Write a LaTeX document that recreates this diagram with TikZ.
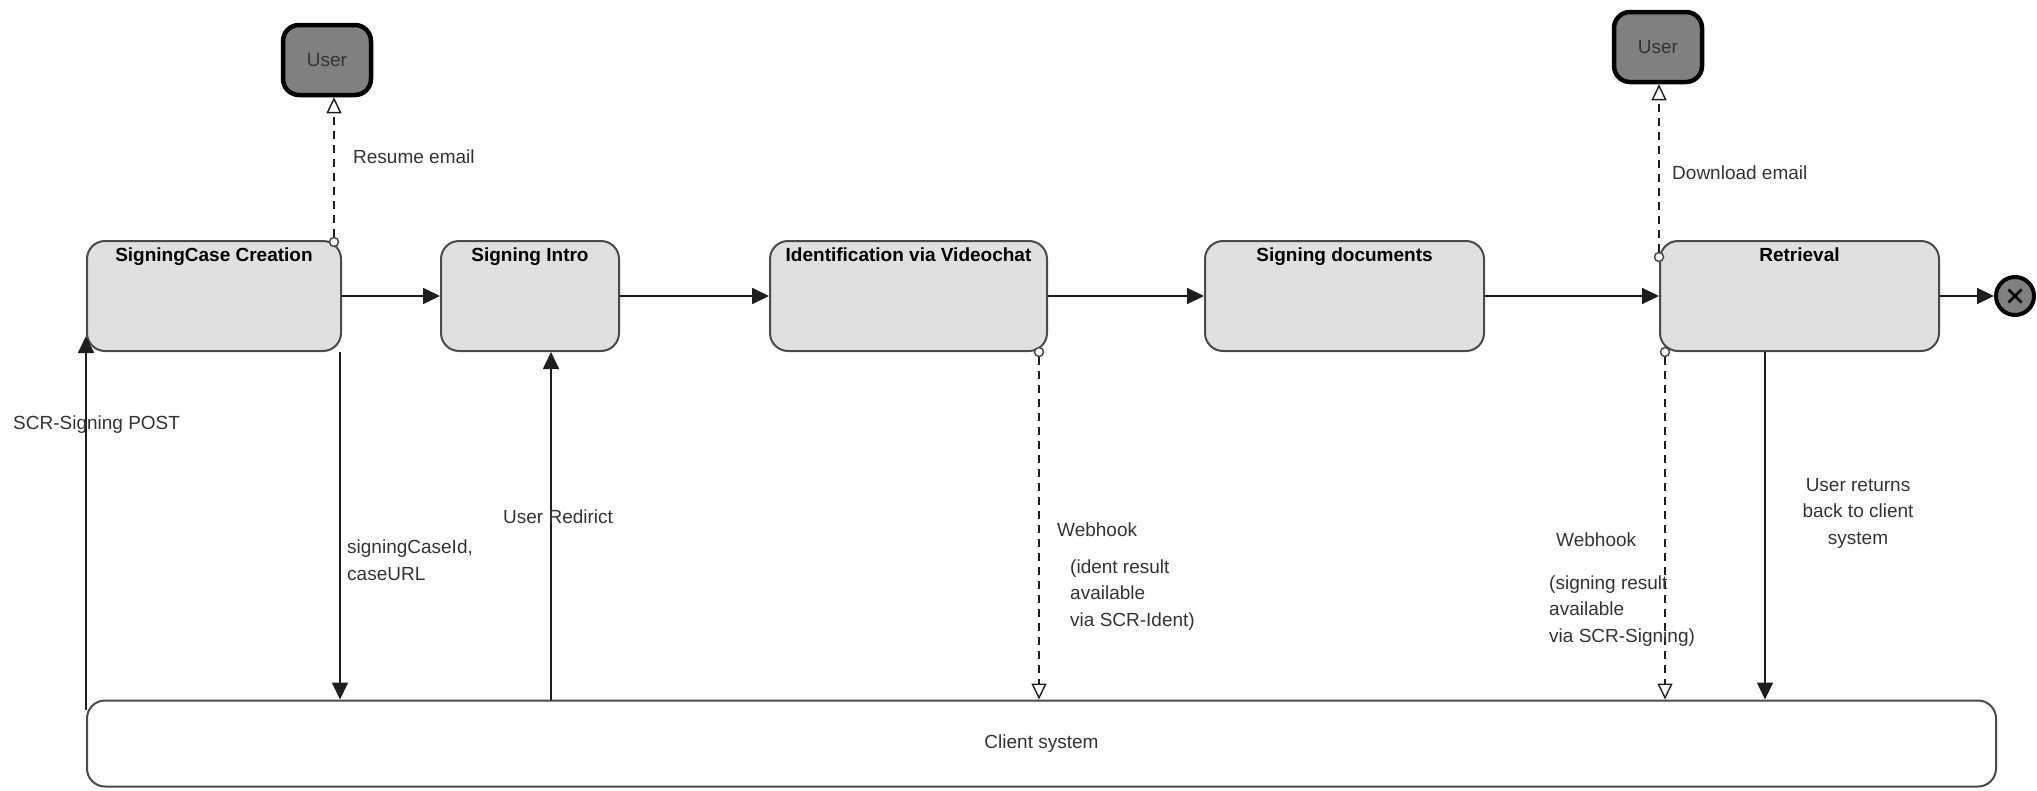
\documentclass[tikz,border=0pt]{standalone}
\usepackage{fontspec}
\setmainfont{Liberation Sans}
\usetikzlibrary{arrows.meta,calc}

\definecolor{boxfill}{HTML}{E0E0E0}
\definecolor{boxline}{HTML}{4A4A4A}
\definecolor{usrfill}{HTML}{808080}
\definecolor{txt}{HTML}{333333}
\definecolor{wire}{HTML}{1E1E1E}

\tikzset{
  x=1pt, y=-1pt,
  proc/.style={draw=boxline, fill=boxfill, line width=2pt, rounded corners=18pt,
    minimum height=110pt, inner sep=0pt},
  ttl/.style={font=\bfseries\fontsize{19}{23}\selectfont, text=black,
    inner sep=0pt, anchor=north, yshift=-8pt},
  usr/.style={draw=black, fill=usrfill, line width=4.5pt, rounded corners=16pt,
    minimum width=88pt, minimum height=70pt, inner sep=0pt,
    font=\fontsize{19}{23}\selectfont, text=txt},
  client/.style={draw=boxline, fill=white, line width=2pt, rounded corners=18pt,
    minimum width=1909pt, minimum height=86pt, inner sep=0pt,
    font=\fontsize{19}{23}\selectfont, text=txt},
  endnode/.style={circle, draw=black, fill=usrfill, line width=4pt,
    minimum size=38pt, inner sep=0pt,
    path picture={
      \draw[line width=2.6pt, black]
        ([shift={(-6.5pt,-6.5pt)}]path picture bounding box.center) --
        ([shift={(6.5pt,6.5pt)}]path picture bounding box.center)
        ([shift={(-6.5pt,6.5pt)}]path picture bounding box.center) --
        ([shift={(6.5pt,-6.5pt)}]path picture bounding box.center);}},
  port/.style={circle, draw=boxline, fill=white, line width=1.5pt,
    minimum size=9pt, inner sep=0pt},
  flow/.style={draw=wire, line width=1.8pt,
    -{Triangle[length=17pt,width=16pt]}},
  notify/.style={draw=wire, line width=1.6pt, dash pattern=on 8pt off 6pt,
    -{Triangle[open,length=16pt,width=15pt,fill=white,line width=1.4pt]}},
  lbl/.style={font=\fontsize{19}{26.5}\selectfont, text=txt, inner sep=0pt,
    anchor=west, align=left},
}

\begin{document}
\begin{tikzpicture}
\useasboundingbox (0,0) rectangle (2037,790);

% stage boxes
\node[proc, minimum width=254pt] (scc) at (214,296)
  {}; \node[ttl] at (scc.north) {SigningCase Creation};
\node[proc, minimum width=178pt] (si) at (530,296)
  {}; \node[ttl] at (si.north) {Signing Intro};
\node[proc, minimum width=277pt] (ident) at (908.5,296)
  {}; \node[ttl] at (ident.north) {Identification via Videochat};
\node[proc, minimum width=279pt] (sigdoc) at (1344.5,296)
  {}; \node[ttl] at (sigdoc.north) {Signing documents};
\node[proc, minimum width=279pt] (ret) at (1799.5,296)
  {}; \node[ttl] at (ret.north) {Retrieval};

% actors, end state and client system
\node[usr] (u1) at (327,60) {User};
\node[usr] (u2) at (1658,47) {User};
\node[endnode] (end) at (2015,296) {};
\node[client] (client) at (1041.5,743.5) {Client system};

% main flow
\draw[flow] (scc.east) -- (si.west);
\draw[flow] (si.east) -- (ident.west);
\draw[flow] (ident.east) -- (sigdoc.west);
\draw[flow] (sigdoc.east) -- (ret.west);
\draw[flow] (ret.east) -- (end.west);

% exchanges with the client system
\draw[flow] ([yshift=-10pt]client.north west) -- ([yshift=16pt]scc.south west);
\coordinate (cid) at ([xshift=-2pt]scc.south east);
\draw[flow] (cid) -- (cid |- client.north);
\coordinate (redir) at ([xshift=21pt]si.south);
\draw[flow] (redir |- client.north) -- (redir);
\coordinate (back) at ([xshift=-34.5pt]ret.south);
\draw[flow] (back) -- (back |- client.north);

% notifications
\node[port] (p0) at ([shift={(-8pt,-2pt)}]scc.north east) {};
\draw[notify] (p0) -- (p0 |- u1.south);
\node[port] (p1) at ([xshift=-9pt]ident.south east) {};
\draw[notify] (p1) -- (p1 |- client.north);
\node[port] (p2) at ([yshift=-17pt]ret.north west) {};
\draw[notify] (p2) -- (p2 |- u2.south);
\node[port] (p3) at ([xshift=6pt]ret.south west) {};
\draw[notify] (p3) -- (p3 |- client.north);

% connector labels
\node[lbl] at (353,157) {Resume email};
\node[lbl] at (1672,173) {Download email};
\node[lbl] at (13,425) {SCR-Signing POST};
\node[lbl] at (347,560) {signingCaseId,\\caseURL};
\node[lbl] at (503,517) {User Redirict};
\node[lbl] at (1057,530) {Webhook};
\node[lbl] at (1070,595) {(ident result\\available\\via SCR-Ident)};
\node[lbl] at (1556,540) {Webhook};
\node[lbl] at (1549,611) {(signing result\\available\\via SCR-Signing)};
\node[lbl, anchor=center, align=center] at (1858,513) {User returns\\back to client\\system};
\end{tikzpicture}
\end{document}
